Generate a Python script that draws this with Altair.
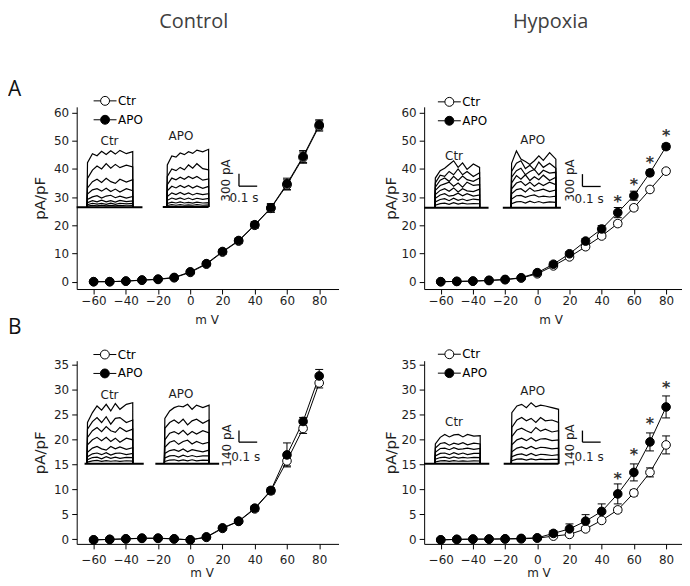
import altair as alt
import pandas as pd

# ---------------- data ----------------
MV = [-60, -50, -40, -30, -20, -10, 0, 10, 20, 30, 40, 50, 60, 70, 80]
SERIES = ["Ctr", "APO"]

# Panel A - Control
A_CTRL_CTR = [0.0, 0.0, 0.2, 0.5, 0.8, 1.4, 3.3, 6.2, 10.5, 14.4, 20.0, 26.0, 34.3, 44.0, 55.2]
A_CTRL_CTR_ERR = [0.2, 0.2, 0.2, 0.3, 0.3, 0.4, 0.5, 0.6, 0.8, 0.9, 1.0, 1.4, 1.8, 2.0, 1.8]
A_CTRL_APO = [0.0, 0.0, 0.2, 0.6, 0.9, 1.5, 3.5, 6.4, 10.7, 14.6, 20.2, 26.2, 34.7, 44.4, 55.6]
A_CTRL_APO_ERR = [0.2, 0.2, 0.2, 0.2, 0.3, 0.4, 0.5, 0.6, 0.8, 0.9, 1.1, 1.5, 2.0, 2.1, 1.8]

# Panel A - Hypoxia
A_HYP_CTR = [0.0, 0.1, 0.2, 0.4, 0.7, 1.3, 2.8, 5.6, 8.8, 12.4, 16.2, 20.6, 26.2, 32.7, 39.2]
A_HYP_CTR_ERR = [0.2, 0.2, 0.2, 0.2, 0.3, 0.3, 0.4, 0.5, 0.6, 0.7, 0.8, 0.9, 0.9, 0.8, 0.9]
A_HYP_APO = [0.0, 0.1, 0.2, 0.5, 0.8, 1.4, 3.2, 6.2, 9.9, 14.4, 18.7, 24.5, 30.5, 38.6, 47.9]
A_HYP_APO_ERR = [0.2, 0.2, 0.2, 0.2, 0.3, 0.3, 0.5, 0.7, 0.8, 0.9, 1.2, 1.8, 1.6, 1.0, 1.0]

# Panel B - Control
B_CTRL_CTR = [-0.1, 0.0, 0.1, 0.2, 0.2, 0.1, -0.1, 0.4, 2.2, 3.6, 6.1, 9.7, 15.7, 22.2, 31.3]
B_CTRL_CTR_ERR = [0.1, 0.1, 0.1, 0.1, 0.1, 0.1, 0.1, 0.2, 0.3, 0.4, 0.5, 0.6, 1.0, 1.0, 1.0]
B_CTRL_APO = [-0.1, 0.0, 0.1, 0.25, 0.25, 0.1, -0.1, 0.5, 2.3, 3.65, 6.25, 9.8, 16.9, 23.6, 32.7]
B_CTRL_APO_ERR = [0.1, 0.1, 0.1, 0.1, 0.1, 0.1, 0.1, 0.2, 0.4, 0.4, 0.5, 0.5, 2.4, 0.8, 1.3]

# Panel B - Hypoxia
B_HYP_CTR = [-0.1, 0.0, 0.05, 0.05, 0.1, 0.1, 0.25, 0.65, 1.0, 2.1, 3.8, 5.9, 9.3, 13.4, 18.9]
B_HYP_CTR_ERR = [0.1, 0.1, 0.1, 0.1, 0.1, 0.1, 0.1, 0.2, 0.3, 0.4, 0.4, 0.5, 0.6, 0.9, 1.8]
B_HYP_APO = [-0.1, 0.0, 0.05, 0.05, 0.1, 0.2, 0.3, 1.2, 2.1, 3.65, 5.6, 9.1, 13.4, 19.5, 26.5]
B_HYP_APO_ERR = [0.1, 0.1, 0.1, 0.1, 0.1, 0.1, 0.2, 0.5, 1.0, 1.3, 1.5, 2.0, 1.7, 1.8, 2.2]

# significance marks (*)
STAR_MV = [50, 60, 70, 80]
A_HYP_STAR = [29.8, 35.6, 43.5, 52.9]
B_HYP_STAR = [12.9, 17.6, 23.9, 31.0]

# current traces (pA) sampled at TRACE_T seconds; pulse ends at TRACE_END
TRACE_T = [0.003, 0.03, 0.055, 0.08, 0.105, 0.13, 0.155, 0.18, 0.215, 0.25]
TRACE_END = 0.25

A_CTRL_CTR_TR = [
    [1080, 1300, 1250, 1360, 1280, 1370, 1290, 1380, 1300, 1350],
    [700, 900, 1000, 930, 1060, 950, 1040, 960, 1020, 980],
    [470, 620, 680, 600, 700, 620, 580, 680, 610, 670],
    [320, 420, 450, 390, 460, 380, 440, 370, 450, 400],
    [190, 250, 280, 220, 270, 290, 230, 270, 220, 260],
    [110, 160, 130, 170, 130, 160, 125, 165, 135, 150],
    [60, 95, 75, 95, 70, 100, 70, 95, 80, 90],
    [25, 45, 30, 50, 30, 45, 30, 45, 35, 40],
]
A_CTRL_APO_TR = [
    [1020, 1240, 1210, 1310, 1270, 1340, 1300, 1380, 1340, 1400],
    [740, 920, 880, 960, 900, 1020, 940, 1050, 930, 900],
    [540, 700, 660, 720, 670, 740, 690, 740, 650, 680],
    [390, 500, 460, 520, 470, 520, 460, 510, 450, 500],
    [250, 340, 300, 350, 300, 340, 290, 330, 300, 320],
    [160, 215, 185, 220, 180, 215, 175, 210, 185, 205],
    [85, 115, 95, 120, 95, 110, 90, 115, 95, 105],
    [35, 55, 40, 55, 40, 50, 40, 55, 40, 50],
]
A_HYP_CTR_TR = [
    [720, 900, 960, 1050, 1140, 980, 1090, 930, 1060, 980],
    [600, 790, 760, 880, 800, 940, 800, 880, 760, 850],
    [500, 670, 720, 640, 760, 660, 770, 680, 640, 720],
    [420, 540, 580, 620, 520, 600, 500, 620, 540, 560],
    [320, 420, 460, 400, 480, 380, 460, 410, 390, 450],
    [230, 310, 340, 280, 300, 350, 290, 340, 280, 310],
    [140, 200, 220, 170, 230, 180, 210, 170, 210, 190],
    [60, 100, 110, 80, 120, 85, 110, 90, 100, 95],
]
A_HYP_APO_TR = [
    [1080, 1380, 1180, 1120, 1050, 1140, 1260, 1150, 1340, 1180],
    [880, 1080, 1140, 950, 1030, 920, 1110, 980, 1080, 960],
    [740, 900, 960, 800, 880, 930, 800, 910, 840, 860],
    [600, 780, 690, 800, 660, 750, 680, 790, 660, 740],
    [460, 600, 640, 540, 620, 520, 600, 540, 620, 560],
    [340, 440, 460, 380, 480, 400, 420, 450, 390, 430],
    [210, 290, 300, 250, 290, 310, 260, 280, 260, 280],
    [95, 140, 150, 110, 160, 120, 150, 115, 140, 130],
]
B_CTRL_CTR_TR = [
    [500, 620, 700, 650, 720, 640, 730, 660, 720, 740],
    [420, 510, 560, 500, 570, 480, 550, 560, 500, 530],
    [320, 400, 440, 390, 450, 400, 380, 440, 390, 420],
    [230, 290, 320, 280, 320, 270, 310, 260, 310, 290],
    [140, 190, 210, 180, 165, 210, 180, 205, 175, 195],
    [85, 120, 130, 110, 135, 105, 125, 130, 110, 125],
    [50, 75, 80, 60, 85, 65, 80, 65, 78, 75],
    [20, 35, 40, 28, 38, 30, 36, 28, 36, 32],
]
B_CTRL_APO_TR = [
    [550, 640, 680, 700, 690, 720, 660, 710, 680, 710],
    [430, 500, 530, 490, 540, 470, 520, 540, 490, 530],
    [290, 370, 390, 360, 405, 350, 390, 360, 400, 375],
    [200, 260, 280, 235, 270, 285, 240, 270, 240, 260],
    [125, 160, 170, 150, 180, 145, 170, 160, 145, 165],
    [70, 95, 100, 80, 105, 85, 100, 85, 95, 95],
    [28, 45, 48, 35, 46, 36, 48, 35, 44, 42],
]
B_HYP_CTR_TR = [
    [240, 320, 355, 325, 350, 355, 325, 355, 335, 340],
    [190, 245, 255, 225, 250, 235, 255, 230, 250, 240],
    [140, 185, 190, 170, 195, 175, 180, 190, 175, 185],
    [95, 125, 130, 110, 135, 115, 130, 110, 125, 125],
    [55, 75, 80, 65, 82, 68, 76, 70, 78, 74],
    [22, 35, 38, 28, 37, 30, 35, 30, 35, 33],
]
B_HYP_APO_TR = [
    [620, 700, 720, 680, 740, 690, 710, 700, 680, 660],
    [440, 530, 560, 520, 550, 500, 560, 520, 530, 500],
    [330, 410, 430, 400, 375, 440, 395, 420, 385, 400],
    [230, 290, 310, 280, 315, 275, 300, 305, 280, 290],
    [145, 190, 205, 180, 210, 180, 200, 195, 180, 190],
    [85, 110, 120, 100, 125, 100, 115, 110, 100, 110],
    [38, 55, 58, 45, 58, 48, 55, 50, 52, 52],
]

# holding-level segment of each recording (s)
A_CTRL_CTR_BASE = [-0.056, 0.303]
A_CTRL_APO_BASE = [-0.024, 0.25]
A_HYP_CTR_BASE = [-0.059, 0.30]
A_HYP_APO_BASE = [-0.046, 0.278]
B_CTRL_CTR_BASE = [-0.013, 0.31]
B_CTRL_APO_BASE = [-0.05, 0.306]
B_HYP_CTR_BASE = [-0.059, 0.30]
B_HYP_APO_BASE = [-0.04, 0.25]

SCALE_PA_A = 300
SCALE_PA_B = 140
SCALE_S = 0.1

# ---------------- style ----------------
DV = "DejaVu Sans"
OS = "Open Sans"
INK = "#1e1e1e"
LEG_PATH = "M-1,0L-0.39,0M0.39,0L1,0M0.39,0A0.39,0.39,0,1,1,-0.39,0A0.39,0.39,0,1,1,0.39,0Z"
CAP_PATH = "M-1,0L1,0"
PX_PER_S = 183.0
TOP_PAD = 3


def txt(s, x, y, size=12, font=DV, baseline="middle", align="center", color=INK, angle=None):
    mk = dict(font=font, fontSize=size, baseline=baseline, align=align)
    if angle is not None:
        mk["angle"] = angle
    return alt.Chart(pd.DataFrame({"s": [s]})).mark_text(**mk).encode(
        x=alt.value(x), y=alt.value(y), text="s:N", color=alt.value(color))


def main_layer(c):
    n = len(MV)
    df = pd.DataFrame({
        "mV": MV + MV,
        "I": c["ctr"] + c["apo"],
        "err": c["ctr_err"] + c["apo_err"],
        "series": ["Ctr"] * n + ["APO"] * n,
    })
    df["lo"] = df["I"] - df["err"]
    df["hi"] = df["I"] + df["err"]
    xsc = alt.Scale(domain=c["xdom"], nice=False, zero=False)
    ysc = alt.Scale(domain=c["ydom"], nice=False, zero=False)
    xax = alt.Axis(values=[-60, -40, -20, 0, 20, 40, 60, 80], title="m V", titleFontSize=12,
                   labelFontSize=12, tickSize=5, labelPadding=c["xlabpad"],
                   titlePadding=c["xtitlepad"], titleX=c["xtitlex"], labelFlush=False, grid=False)
    yax = alt.Axis(values=c["yvals"], title="pA/pF", titleFontSize=15, labelFontSize=12,
                   tickSize=5, labelPadding=3, titlePadding=c["ytitlepad"], grid=False)

    def X(f):
        return alt.X(f"{f}:Q", scale=xsc, axis=xax)

    def Y(f):
        return alt.Y(f"{f}:Q", scale=ysc, axis=yax)

    base = alt.Chart(df)
    rule = base.mark_rule(color="black", strokeWidth=1).encode(x=X("mV"), y=Y("lo"), y2="hi:Q")
    cap_lo = base.mark_point(shape=CAP_PATH, size=64, filled=False, color="black",
                             strokeWidth=1, opacity=1).encode(x=X("mV"), y=Y("lo"))
    cap_hi = base.mark_point(shape=CAP_PATH, size=64, filled=False, color="black",
                             strokeWidth=1, opacity=1).encode(x=X("mV"), y=Y("hi"))
    line = base.mark_line(color="black", strokeWidth=1).encode(
        x=X("mV"), y=Y("I"), detail="series:N")
    lx, ly, rp = c["legend"]
    pts = base.mark_point(filled=True, shape="circle", size=75, stroke="black",
                          strokeWidth=1, opacity=1).encode(
        x=X("mV"), y=Y("I"),
        fill=alt.Fill("series:N", scale=alt.Scale(domain=SERIES, range=["white", "black"]),
                      legend=alt.Legend(title=None, orient="none", legendX=lx, legendY=ly,
                                        symbolType=LEG_PATH, symbolSize=529,
                                        symbolStrokeColor="black", symbolStrokeWidth=1,
                                        labelFont=DV, labelFontSize=12, labelColor="black",
                                        labelOffset=1, rowPadding=rp, padding=0)))
    layers = [rule, cap_lo, cap_hi, line, pts]
    if c.get("stars") is not None:
        sdf = pd.DataFrame({"mV": STAR_MV, "I": c["stars"], "s": ["*"] * len(STAR_MV)})
        layers.append(alt.Chart(sdf).mark_text(font=DV, fontSize=16, fontWeight="bold",
                                               baseline="alphabetic", dy=9).encode(
            x=X("mV"), y=Y("I"), text="s:N", color=alt.value("#333333")))
    for t in c["texts"]:
        layers.append(txt(**t))
    return alt.layer(*layers)


def inset_layer(traces, base_t, xr, base_y, k):
    rows = []
    for ti, vals in enumerate(traces):
        rows.append(dict(tr=ti, o=0, t=0.0, I=0.0))
        for j, (tt, v) in enumerate(zip(TRACE_T, vals)):
            rows.append(dict(tr=ti, o=j + 1, t=tt, I=float(v)))
        rows.append(dict(tr=ti, o=len(vals) + 1, t=TRACE_END, I=0.0))
    df = pd.DataFrame(rows)
    xs = alt.Scale(domain=[0, TRACE_END], range=[xr[0], xr[1]], nice=False, zero=False)
    ys = alt.Scale(domain=[0, 1000], range=[base_y, base_y - 1000 * k], nice=False, zero=False)
    tr = alt.Chart(df).mark_line(color="black", strokeWidth=1.2).encode(
        x=alt.X("t:Q", scale=xs, axis=None), y=alt.Y("I:Q", scale=ys, axis=None),
        detail="tr:N", order="o:Q")
    bl = alt.Chart(pd.DataFrame({"t": [base_t[0]], "t2": [base_t[1]], "I": [0.0]})).mark_rule(
        color="black", strokeWidth=2).encode(
        x=alt.X("t:Q", scale=xs, axis=None), x2="t2:Q", y=alt.Y("I:Q", scale=ys, axis=None))
    return alt.layer(bl, tr)


def bar_layer(pa, bx, by, k):
    xs = alt.Scale(domain=[0, SCALE_S], range=[bx, bx + SCALE_S * PX_PER_S], nice=False, zero=False)
    ys = alt.Scale(domain=[0, pa], range=[by, by - pa * k], nice=False, zero=False)
    df = pd.DataFrame({"t": [0.0, 0.0], "t2": [0.0, SCALE_S], "I": [0.0, 0.0], "I2": [float(pa), 0.0]})
    return alt.Chart(df).mark_rule(color="black", strokeWidth=1.3).encode(
        x=alt.X("t:Q", scale=xs, axis=None), x2="t2:Q",
        y=alt.Y("I:Q", scale=ys, axis=None), y2="I2:Q")


def panel(c):
    layers = [main_layer(c)]
    for ins in c["insets"]:
        layers.append(inset_layer(ins["tr"], ins["base"], ins["xr"], ins["by"], c["k"]))
    b = c["bar"]
    layers.append(bar_layer(b["pa"], b["x"], b["y"], c["k"]))
    return alt.layer(*layers).resolve_scale(x="independent", y="independent").properties(
        width=c["W"], height=c["H"])


KA = 12.4 / 300
KB = 11.6 / 140
TITLE_Y = -98 + TOP_PAD

cfgs = [
    dict(W=263, H=183, xdom=[-70.5, 92], ydom=[-2.6, 62], yvals=list(range(0, 61, 10)),
         ctr=A_CTRL_CTR, ctr_err=A_CTRL_CTR_ERR, apo=A_CTRL_APO, apo_err=A_CTRL_APO_ERR,
         xlabpad=2, xtitlepad=8, xtitlex=130.5, ytitlepad=6, legend=(16.5, -18, -1.3), k=KA,
         insets=[dict(tr=A_CTRL_CTR_TR, base=A_CTRL_CTR_BASE, xr=(10.3, 56.3), by=100.8),
                 dict(tr=A_CTRL_APO_TR, base=A_CTRL_APO_BASE, xr=(90.5, 132.5), by=100.5)],
         bar=dict(pa=SCALE_PA_A, x=163, y=79.7),
         texts=[dict(s="Control", x=117.5, y=TITLE_Y, size=20, font=OS, baseline="top", color="#404040"),
                dict(s="A", x=-69, y=-11, size=21, font=OS, baseline="alphabetic", align="left", color="#111"),
                dict(s="B", x=-69, y=228.5, size=21, font=OS, baseline="alphabetic", align="left", color="#111"),
                dict(s="Ctr", x=33, y=34), dict(s="APO", x=104.7, y=29),
                dict(s=f"{SCALE_PA_A} pA", x=149.7, y=74, angle=270),
                dict(s=f"{SCALE_S} s", x=168, y=92)]),
    dict(W=259, H=183, xdom=[-70.3, 89.9], ydom=[-2.6, 62], yvals=list(range(0, 61, 10)),
         ctr=A_HYP_CTR, ctr_err=A_HYP_CTR_ERR, apo=A_HYP_APO, apo_err=A_HYP_APO_ERR,
         xlabpad=2, xtitlepad=8, xtitlex=127, ytitlepad=3, legend=(13.3, -17, -3), k=KA,
         stars=A_HYP_STAR,
         insets=[dict(tr=A_HYP_CTR_TR, base=A_HYP_CTR_BASE, xr=(10.7, 55.7), by=101.3),
                 dict(tr=A_HYP_APO_TR, base=A_HYP_APO_BASE, xr=(87.3, 132.3), by=101.3)],
         bar=dict(pa=SCALE_PA_A, x=159, y=80),
         texts=[dict(s="Hypoxia", x=127, y=TITLE_Y, size=20, font=OS, baseline="top", color="#404040"),
                dict(s="Ctr", x=30, y=49), dict(s="APO", x=109, y=33.3),
                dict(s=f"{SCALE_PA_A} pA", x=146.7, y=74, angle=270),
                dict(s=f"{SCALE_S} s", x=165.7, y=92.3)]),
    dict(W=263, H=184, xdom=[-70.5, 92], ydom=[-0.9, 35.75], yvals=list(range(0, 36, 5)),
         ctr=B_CTRL_CTR, ctr_err=B_CTRL_CTR_ERR, apo=B_CTRL_APO, apo_err=B_CTRL_APO_ERR,
         xlabpad=6, xtitlepad=2, xtitlex=125.5, ytitlepad=6, legend=(16.3, -18.2, -4), k=KB,
         insets=[dict(tr=B_CTRL_CTR_TR, base=B_CTRL_CTR_BASE, xr=(10.3, 56.3), by=103.5),
                 dict(tr=B_CTRL_APO_TR, base=B_CTRL_APO_BASE, xr=(88, 133), by=103.5)],
         bar=dict(pa=SCALE_PA_B, x=163, y=81.8),
         texts=[dict(s="Ctr", x=33, y=34.5), dict(s="APO", x=104.7, y=33.5),
                dict(s=f"{SCALE_PA_B} pA", x=150.7, y=85.2, angle=270),
                dict(s=f"{SCALE_S} s", x=169.7, y=96.8)]),
    dict(W=259, H=184, xdom=[-70.3, 89.9], ydom=[-0.9, 35.75], yvals=list(range(0, 36, 5)),
         ctr=B_HYP_CTR, ctr_err=B_HYP_CTR_ERR, apo=B_HYP_APO, apo_err=B_HYP_APO_ERR,
         xlabpad=6, xtitlepad=2, xtitlex=114.8, ytitlepad=3, legend=(13.3, -18.5, -3), k=KB,
         stars=B_HYP_STAR,
         insets=[dict(tr=B_HYP_CTR_TR, base=B_HYP_CTR_BASE, xr=(10.7, 56.3), by=103.5),
                 dict(tr=B_HYP_APO_TR, base=B_HYP_APO_BASE, xr=(87.5, 135), by=103.5)],
         bar=dict(pa=SCALE_PA_B, x=159, y=81.8),
         texts=[dict(s="Ctr", x=30, y=61.8), dict(s="APO", x=109, y=30.2),
                dict(s=f"{SCALE_PA_B} pA", x=146.7, y=85.2, angle=270),
                dict(s=f"{SCALE_S} s", x=165.7, y=96.8)]),
]

panels = [panel(c) for c in cfgs]

chart = alt.concat(*panels, columns=2, spacing={"row": 72, "column": 86},
                   bounds="flush", align="each").resolve_scale(fill="independent").properties(
    padding={"left": 0, "top": TOP_PAD, "right": 0, "bottom": 0}, background="white"
).configure_view(stroke=None).configure_axis(
    domainColor="black", tickColor="black", labelColor=INK, titleColor=INK,
    labelFont=DV, titleFont=DV, titleFontWeight="normal", domainWidth=1, tickWidth=1)

chart.save("out.html", embed_options={"renderer": "svg", "actions": False})
